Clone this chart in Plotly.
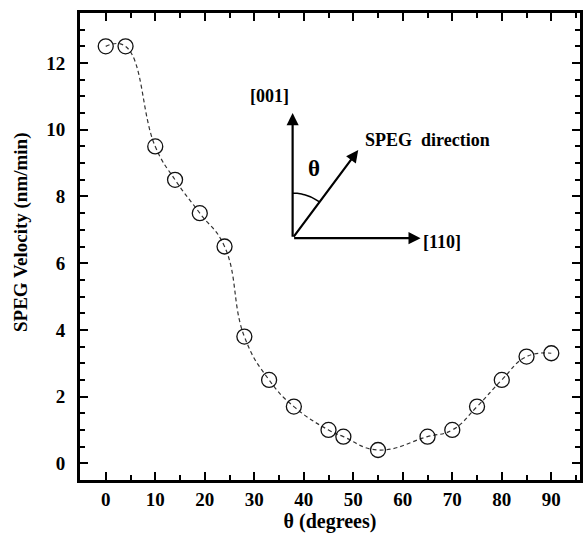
import numpy as np
import plotly.graph_objects as go

theta_deg = [0, 4, 10, 14, 19, 24, 28, 33, 38, 45, 48, 55, 65, 70, 75, 80, 85, 90]
velocity = [12.5, 12.5, 9.5, 8.5, 7.5, 6.5, 3.8, 2.5, 1.7, 1.0, 0.8, 0.4, 0.8, 1.0, 1.7, 2.5, 3.2, 3.3]
x_ticks = [0, 10, 20, 30, 40, 50, 60, 70, 80, 90]
y_ticks = [0, 2, 4, 6, 8, 10, 12]

FONT = "Liberation Serif"

fig = go.Figure()
fig.add_trace(go.Scatter(
    x=theta_deg, y=velocity, mode="lines",
    line=dict(color="#333", width=1.2, dash="4px,3px", shape="spline", smoothing=1.3),
    showlegend=False, hoverinfo="skip"))
fig.add_trace(go.Scatter(
    x=theta_deg, y=velocity, mode="markers",
    marker=dict(symbol="circle-open", size=15, color="#111", line=dict(width=1.3, color="#111")),
    showlegend=False))

# inset diagram (data coordinates)
ox, oy = 37.75, 6.75
up_tip = (37.75, 10.5)
right_tip = (63.6, 6.75)
diag_tip = (51.0, 9.39)
arrow_common = dict(xref="x", yref="y", axref="x", ayref="y", showarrow=True,
                    arrowhead=2, arrowsize=1.1, arrowwidth=2.2, arrowcolor="black", text="")
for tip in (up_tip, right_tip, diag_tip):
    fig.add_annotation(x=tip[0], y=tip[1], ax=ox, ay=oy, **arrow_common)

# arc for theta (pixel-based radius converted to data units)
px_per_x = 4.98
px_per_y = 33.33
r_px = 45
ang_end = np.arctan2(66, 88)
angs = np.linspace(0, ang_end, 20)
xs = ox + r_px * np.sin(angs) / px_per_x
ys = oy + r_px * np.cos(angs) / px_per_y
path = "M " + " L ".join(f"{a:.3f},{b:.3f}" for a, b in zip(xs, ys))
fig.add_shape(type="path", path=path, xref="x", yref="y", line=dict(color="black", width=1.5))

txt_font = dict(family=FONT, size=18, color="black")
fig.add_annotation(x=33.0, y=11.0, text="<b>[001]</b>", showarrow=False, font=txt_font, xref="x", yref="y")
fig.add_annotation(x=52.0, y=9.7, text="<b>SPEG  direction</b>", showarrow=False, font=txt_font,
                   xanchor="left", xref="x", yref="y")
fig.add_annotation(x=42.0, y=8.85, text="<b>θ</b>", showarrow=False,
                   font=dict(family=FONT, size=23, color="black"), xref="x", yref="y")
fig.add_annotation(x=63.6, y=6.65, text="<b>[110]</b>", showarrow=False, font=txt_font,
                   xanchor="left", xref="x", yref="y")

# y-axis title as annotation (slightly above centre, as in the reference)
fig.add_annotation(x=0, xref="paper", xshift=-59, xanchor="center", y=0.531, yref="paper",
                   yanchor="middle", textangle=-90,
                   text="<b>SPEG Velocity (nm/min)</b>", showarrow=False,
                   font=dict(family=FONT, size=19, color="black"))

axis_common = dict(showline=True, linewidth=3, linecolor="black", mirror="allticks",
                   ticks="inside", ticklen=8, tickwidth=2, tickcolor="black",
                   showgrid=False, zeroline=False,
                   tickfont=dict(family=FONT, size=19, color="black"))
fig.update_xaxes(range=[-5.2, 95.8], tickvals=x_ticks, ticktext=[f"<b>{v}</b>" for v in x_ticks],
                 minor=dict(dtick=5, tick0=0, ticks="inside", ticklen=5, tickwidth=2, tickcolor="black"),
                 title=dict(text="<b>θ (degrees)</b>", font=dict(family=FONT, size=20, color="black"), standoff=6),
                 ticklabelstandoff=0,
                 **axis_common)
fig.update_yaxes(range=[-0.5, 13.5], tickvals=y_ticks, ticktext=[f"<b>{v}</b>" for v in y_ticks],
                 minor=dict(dtick=0.5, tick0=0, ticks="inside", ticklen=5, tickwidth=2, tickcolor="black"),
                 ticklabelstandoff=8,
                 **axis_common)

fig.update_layout(width=585, height=536, margin=dict(l=80, r=2, t=13, b=56),
                  plot_bgcolor="white", paper_bgcolor="white")
fig.write_html("out.html")
